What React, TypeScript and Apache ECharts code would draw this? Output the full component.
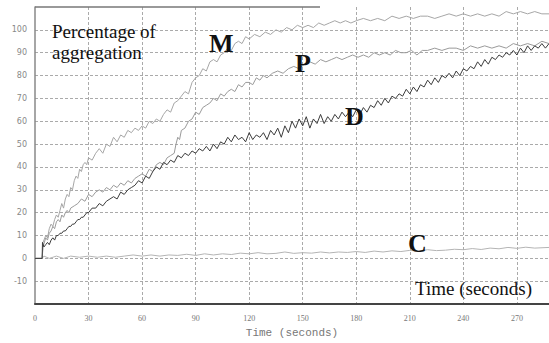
import React, { useEffect, useRef } from "react";
import * as echarts from "echarts";

const xTicks = [0, 30, 60, 90, 120, 150, 180, 210, 240, 270];
const yTicks = [-10, 0, 10, 20, 30, 40, 50, 60, 70, 80, 90, 100];

const seriesM: number[][] = [[0,0],[3,0],[4,0],[4.5,7],[6,10],[7,9],[8,13],[9,15],[10,14],[11,17],[12,19],[13,18],[14,21],[15,24],[16,22],[17,26],[18,28],[19,27],[20,31],[21,30],[22,34],[23,36],[24,35],[25,39],[26,38],[27,41],[28,42],[29,41],[30,44],[32,43],[34,46],[36,48],[38,46],[40,50],[42,49],[44,53],[46,51],[48,54],[50,53],[52,56],[54,55],[56,57],[58,56],[60,58],[62,57],[64,60],[66,59],[68,61],[70,60],[72,63],[74,65],[76,64],[78,68],[80,69],[82,71],[84,73],[86,72],[88,77],[90,79],[92,80],[94,83],[96,82],[98,86],[100,87],[102,86],[104,89],[106,90],[108,92],[110,91],[112,94],[114,95],[116,94],[118,97],[120,96],[123,98],[126,97],[129,99],[132,98],[135,100],[138,99],[141,101],[144,100],[147,102],[150,101],[153,102],[156,101],[159,103],[162,102],[165,103],[168,104],[171,103],[174,104],[177,103],[180,104],[184,105],[188,104],[192,105],[196,104],[200,106],[204,105],[208,106],[212,105],[216,106],[220,106],[224,105],[228,106],[232,107],[236,106],[240,107],[244,106],[248,107],[252,106],[256,107],[260,106],[264,108],[268,107],[272,108],[276,107],[280,108],[284,107],[288,107]];

const seriesP: number[][] = [[0,0],[3,0],[4,0],[4.5,5],[6,9],[7,8],[8,11],[9,12],[10,14],[11,13],[12,16],[13,17],[14,16],[15,19],[16,18],[17,20],[18,21],[19,20],[20,22],[22,23],[24,24],[26,26],[28,25],[30,28],[32,27],[34,29],[36,30],[38,29],[40,31],[42,30],[44,32],[46,31],[48,33],[50,32],[52,34],[54,33],[56,35],[58,36],[60,37],[62,36],[64,39],[66,38],[68,41],[70,42],[72,41],[74,44],[76,45],[78,46],[79,50],[80,53],[81,52],[82,56],[84,57],[86,60],[88,61],[90,64],[92,63],[94,66],[96,67],[98,68],[100,70],[102,69],[104,72],[106,71],[108,73],[110,74],[112,73],[114,76],[116,75],[118,77],[120,77],[122,76],[124,79],[126,78],[128,80],[130,79],[133,81],[136,82],[139,81],[142,83],[145,84],[148,83],[151,85],[154,86],[157,85],[160,87],[163,86],[166,87],[169,88],[172,87],[175,88],[178,89],[181,88],[184,89],[187,88],[190,90],[193,89],[196,90],[199,89],[202,91],[205,90],[208,90],[211,91],[214,89],[217,91],[220,91],[224,92],[228,91],[232,92],[236,92],[240,91],[244,93],[248,92],[252,93],[256,92],[260,93],[264,92],[268,94],[272,93],[276,94],[280,93],[284,95],[288,94]];

const seriesD: number[][] = [[0,0],[4,0],[4.2,7],[5,5],[6,6],[7,7],[8,6],[9,8],[10,9],[11,8],[12,10],[13,10],[14,11],[15,11],[16,12],[17,12],[18,13],[19,14],[20,14],[21,15],[22,15],[23,16],[24,17],[25,17],[26,18],[27,18],[28,19],[29,20],[30,20],[32,22],[34,22],[36,24],[38,23],[40,25],[42,26],[44,27],[46,26],[48,29],[50,28],[52,30],[54,31],[56,32],[58,34],[60,33],[62,36],[64,35],[66,38],[68,40],[70,39],[72,42],[74,41],[76,43],[78,42],[80,45],[82,44],[84,46],[86,45],[88,47],[90,46],[92,48],[94,47],[96,49],[98,47],[100,50],[102,48],[104,51],[106,50],[108,53],[110,51],[112,54],[114,52],[116,53],[118,51],[120,55],[122,52],[124,54],[126,53],[128,55],[130,52],[132,56],[134,54],[136,57],[138,53],[140,58],[142,55],[144,60],[146,57],[148,61],[150,58],[152,62],[154,57],[156,61],[158,59],[160,63],[162,59],[164,62],[166,60],[168,63],[170,61],[172,64],[174,62],[176,64],[178,62],[180,65],[182,63],[184,66],[186,64],[188,67],[190,66],[192,69],[194,67],[196,70],[198,68],[200,71],[202,70],[204,72],[206,71],[208,74],[210,72],[212,75],[214,73],[216,76],[218,75],[220,78],[222,76],[224,79],[226,77],[228,80],[230,79],[232,81],[234,79],[236,82],[238,80],[240,83],[242,82],[244,84],[246,83],[248,86],[250,84],[252,87],[254,85],[256,88],[258,87],[260,89],[262,88],[264,90],[266,89],[268,91],[270,89],[272,92],[274,90],[276,93],[278,91],[280,93],[282,92],[284,94],[286,92],[288,94]];

const seriesC: number[][] = [[0,0],[4,0],[5,1],[8,0],[12,1],[16,0],[20,1],[25,0.5],[30,1],[35,0.5],[40,1],[45,0.5],[50,1],[55,1.5],[60,1],[65,1.5],[70,1],[75,1.5],[80,1.3],[85,1.8],[90,1.3],[95,2],[100,1.5],[105,2],[110,1.7],[115,2.3],[120,2],[125,2.5],[130,2],[135,2.2],[140,2.8],[145,2.2],[150,2.5],[155,2.3],[160,2.8],[165,2.4],[170,2.8],[175,2.6],[180,3],[185,2.6],[190,3.2],[195,2.8],[200,3.3],[205,3],[210,3.5],[215,3.2],[220,3.8],[225,3.4],[230,3.6],[235,4],[240,3.8],[245,4.3],[250,3.9],[255,4.5],[260,4.2],[265,4.8],[270,4.4],[275,4.9],[280,4.5],[288,4.8]];

const curveLabels = [
  { text: "M", x: 209, y: 43 },
  { text: "P", x: 295, y: 63 },
  { text: "D", x: 345, y: 116 },
  { text: "C", x: 408, y: 243 },
];

const SERIF = "Liberation Serif";

export default function App() {
  const ref = useRef<HTMLDivElement>(null);
  useEffect(() => {
    if (!ref.current) return;
    const chart = echarts.init(ref.current, undefined, { renderer: "svg" });
    const line = (name: string, data: number[][], color: string, w: number) => ({
      name,
      type: "line",
      data,
      showSymbol: false,
      symbol: "none",
      lineStyle: { color, width: w },
      z: 3,
    });
    const txt = (text: string, x: number, y: number, size: number, bold: boolean) => ({
      type: "text",
      x,
      y,
      z: 10,
      style: {
        text,
        fontFamily: SERIF,
        fontSize: size,
        fontWeight: bold ? "bold" : "normal",
        fill: "#111",
        align: "left",
        verticalAlign: "middle",
      },
    });
    chart.setOption({
      animation: false,
      backgroundColor: "#fff",
      grid: { left: 35, right: 0, top: 7, bottom: 33, containLabel: false },
      xAxis: {
        type: "value",
        min: 0,
        max: 288,
        interval: 30,
        name: "Time (seconds)",
        nameLocation: "middle",
        nameGap: 22,
        nameTextStyle: { fontFamily: "Liberation Mono", fontSize: 11, color: "#777" },
        axisLine: { show: true, onZero: false, lineStyle: { color: "#444", width: 2 } },
        axisTick: { show: false },
        axisLabel: {
          showMaxLabel: false,
          fontSize: 8,
          color: "#777",
          fontFamily: SERIF,
          margin: 10,
          formatter: (v: number) => (xTicks.includes(v) ? String(v) : ""),
        },
        splitLine: { show: true, showMinLine: false, showMaxLine: false, lineStyle: { color: "#aaa", type: [3, 2], width: 1 } },
      },
      yAxis: {
        type: "value",
        min: -20,
        max: 110,
        interval: 10,
        axisLine: { show: true, onZero: false, lineStyle: { color: "#888", width: 1.5 } },
        axisTick: { show: false },
        axisLabel: {
          showMinLabel: false,
          showMaxLabel: false,
          fontSize: 8,
          color: "#888",
          fontFamily: "DejaVu Sans",
          margin: 8,
          formatter: (v: number) => (yTicks.includes(v) ? String(v) : ""),
        },
        splitLine: { show: true, showMinLine: false, showMaxLine: false, lineStyle: { color: "#aaa", type: [3, 2], width: 1 } },
      },
      series: [
        line("C", seriesC, "#b4b4b4", 1),
        line("M", seriesM, "#a6a6a6", 1),
        line("P", seriesP, "#9a9a9a", 1),
        line("D", seriesD, "#3c3c3c", 1),
      ],
      graphic: [
        { type: "line", shape: { x1: 35, y1: 7, x2: 320, y2: 7 }, style: { stroke: "#777", lineWidth: 1.5 }, z: 10 },
        txt("Percentage of", 52, 31, 19, false),
        txt("aggregation", 52, 52, 19, false),
        txt("Time (seconds)", 415, 288, 19, false),
        ...curveLabels.map((l) => txt(l.text, l.x, l.y, 26, true)),
      ],
    });
    return () => chart.dispose();
  }, []);
  return (
    <div
      ref={ref}
      style={{ position: "fixed", left: 0, top: 0, width: 549, height: 343, background: "#fff" }}
    />
  );
}
